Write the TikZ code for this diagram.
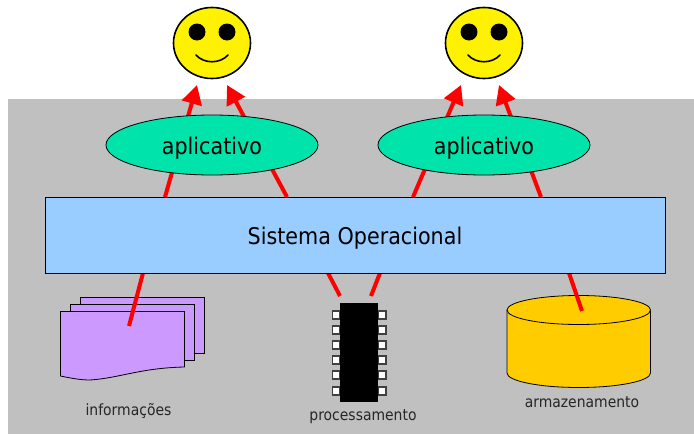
\documentclass[tikz,border=0pt]{standalone}
\usepackage{fontspec}
\setmainfont{DejaVu Sans Condensed}
\usetikzlibrary{arrows.meta,shapes.geometric}
\definecolor{bggray}{RGB}{192,192,192}
\definecolor{appgreen}{RGB}{0,227,170}
\definecolor{osblue}{RGB}{153,204,255}
\definecolor{lilac}{RGB}{204,153,255}
\definecolor{gold}{RGB}{255,204,0}
\tikzset{
  link/.style={draw=red,line width=4pt},
  arrowlink/.style={link,-{Triangle[length=19pt,width=20pt]}},
  bigtext/.style={font=\fontsize{23}{25}\selectfont,text height=23.5pt,text depth=4.5pt},
  app/.style={ellipse,draw=black,line width=0.8pt,fill=appgreen,minimum width=212pt,minimum height=60pt,inner sep=0pt,bigtext},
  face/.style={ellipse,draw=black,line width=1.6pt,fill=yellow,minimum width=77pt,minimum height=71pt,inner sep=0pt},
  eye/.style={circle,fill=black,minimum size=17pt,inner sep=0pt},
  sheet/.style={draw=black,line width=0.8pt,fill=lilac},
  pin/.style={draw=black!75,line width=1.2pt,fill=white},
  caption/.style={font=\fontsize{15.5}{17}\selectfont,text=black!85,inner sep=0pt}
}
\newcommand{\smileyat}[2]{%
  \node[face] (#2) at (#1,43) {};
  \node[eye] (#2l) at (#1-15,32) {};
  \node[eye] (#2r) at (#1+15,32) {};
  \draw[line width=1.6pt,line cap=round] (#1-16,55) .. controls (#1-8,64) and (#1+8,64) .. (#1+16,55);
}
\begin{document}
\begin{tikzpicture}[x=1pt,y=-1pt]
\useasboundingbox (0,0) rectangle (694,434);
\fill[bggray] (8,99) rectangle (694,434);
% smileys
\smileyat{212}{faceA}
\smileyat{484}{faceB}
% named ends of connectors
\coordinate (a1) at (165,197); \coordinate (t1) at (197,85);
\coordinate (a2) at (287,197); \coordinate (t2) at (227,85);
\coordinate (a3) at (413,197); \coordinate (t3) at (461,85);
\coordinate (a4) at (541,197); \coordinate (t4) at (499,85);
\coordinate (b1) at (143,273); \coordinate (e1) at (129,326);
\coordinate (b2) at (328,273); \coordinate (e2) at (340,296);
\coordinate (b3) at (380,273); \coordinate (e3) at (371,296);
\coordinate (b4) at (569,273); \coordinate (e4) at (582,311);
\draw[arrowlink] (a1) -- (t1);
\draw[arrowlink] (a2) -- (t2);
\draw[arrowlink] (a3) -- (t3);
\draw[arrowlink] (a4) -- (t4);
% documents
\draw[sheet] (80,297.5) rectangle (204.5,353);
\draw[sheet] (70.5,304) rectangle (194,360);
\draw[sheet] (60.5,311.5) -- (184.5,311.5) -- (184.5,367) .. controls (140,368) and (120,378) .. (90,380) .. controls (80,380) and (70,378) .. (60.5,376) -- cycle;
% chip
\foreach \y in {315,330,345,360,375,391}{
  \draw[pin] (332.5,\y-4) rectangle (340,\y+4);
  \draw[pin] (378,\y-4) rectangle (386,\y+4);
}
\fill[black] (340,303) rectangle (378,402);
% cylinder
\draw[draw=black,line width=0.8pt,fill=gold] (507,310) -- (507,373) arc[start angle=180,end angle=360,x radius=71.75pt,y radius=14.5pt] -- (650.5,310);
\draw[draw=black,line width=0.8pt,fill=gold] (578.75,310) ellipse[x radius=71.75pt,y radius=14.5pt];
% lower connectors
\draw[link] (b1) -- (e1);
\draw[link] (b2) -- (e2);
\draw[link] (b3) -- (e3);
\draw[link] (b4) -- (e4);
% apps and OS
\node[app] (appA) at (212,145) {aplicativo};
\node[app] (appB) at (484,145) {aplicativo};
\node[draw=black,line width=0.8pt,fill=osblue,minimum width=620pt,minimum height=76pt,inner sep=0pt,bigtext] (os) at (355,235) {Sistema Operacional};
% captions
\node[caption] (c1) at (128.5,411) {informações};
\node[caption] (c2) at (363,417) {processamento};
\node[caption] (c3) at (582,402) {armazenamento};
\end{tikzpicture}
\end{document}
